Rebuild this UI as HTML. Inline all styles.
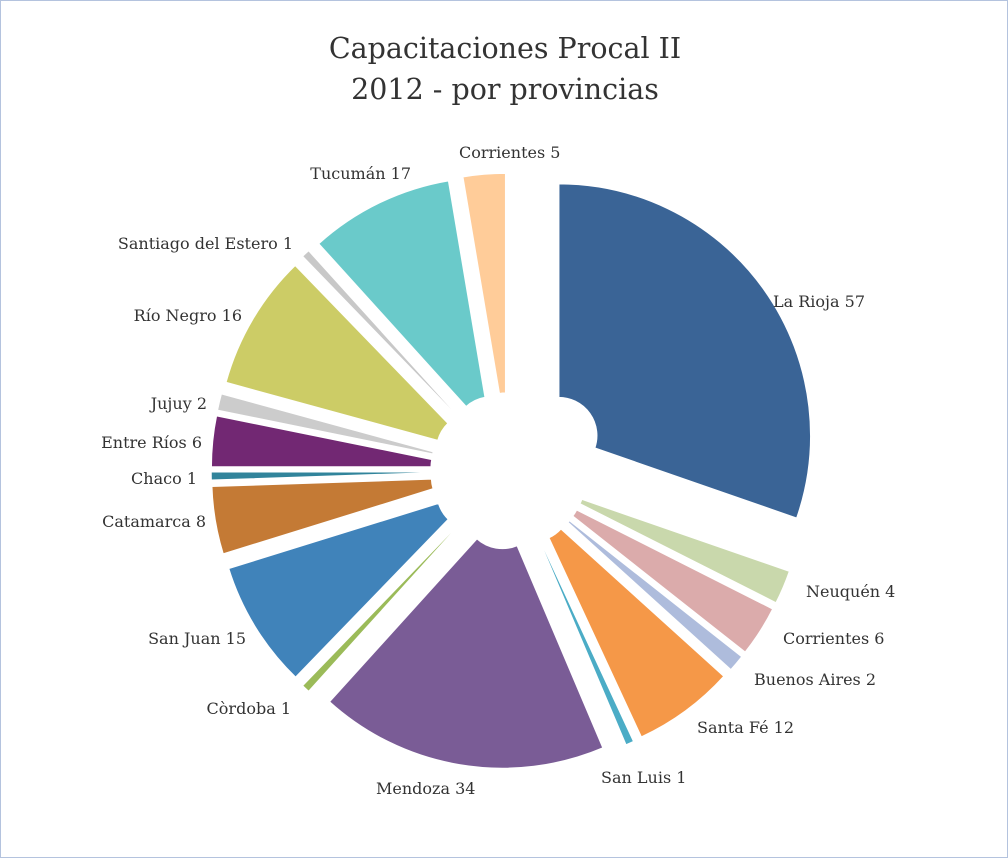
<!DOCTYPE html>
<html><head><meta charset="utf-8">
<style>
html,body{margin:0;padding:0;background:#fff;}
#c{position:relative;width:1006px;height:856px;border:1px solid #b4c3de;overflow:hidden;}
svg{position:absolute;left:0;top:0;}
text{font-family:"DejaVu Serif","Liberation Serif",serif;fill:#333;}
</style></head><body>
<div id="c">
<svg id="s" width="1006" height="856" viewBox="0 0 1006 856">
<text x="504" y="57" font-size="28.5" text-anchor="middle" fill="#222">Capacitaciones Procal II</text>
<text x="504" y="98" font-size="28.5" text-anchor="middle" fill="#222">2012 - por provincias</text>
<g id="p"></g>
<g font-size="16">
<text x="772" y="306">La Rioja 57</text>
<text x="805" y="596">Neuquén 4</text>
<text x="782" y="643">Corrientes 6</text>
<text x="753" y="684">Buenos Aires 2</text>
<text x="696" y="732">Santa Fé 12</text>
<text x="600" y="782">San Luis 1</text>
<text x="375" y="793">Mendoza 34</text>
<text x="290" y="713" text-anchor="end">Còrdoba 1</text>
<text x="245" y="643" text-anchor="end">San Juan 15</text>
<text x="205" y="526" text-anchor="end">Catamarca 8</text>
<text x="196" y="483" text-anchor="end">Chaco 1</text>
<text x="201" y="447" text-anchor="end">Entre Ríos 6</text>
<text x="206" y="408" text-anchor="end">Jujuy 2</text>
<text x="241" y="320" text-anchor="end">Río Negro 16</text>
<text x="292" y="248" text-anchor="end">Santiago del Estero 1</text>
<text x="410" y="178" text-anchor="end">Tucumán 17</text>
<text x="458" y="157">Corrientes 5</text>
</g>
</svg>
</div>
<script>
var data=[[57,"#3A6496",61,252],[4,"#C9D8AC",40],[6,"#DBABAB",40],[2,"#AEBCDC",40],[12,"#F59848",40],[1,"#4BACC6",40],[34,"#7A5C96",40],[1,"#9BBB59",40],[15,"#4083BA",40],[8,"#C47A35",40],[1,"#31849B",40],[6,"#722873",40],[2,"#CCCCCC",40],[16,"#CCCC66",40],[1,"#C8C8C8",40],[17,"#6ACACA",40],[5,"#FFCC99",40]];
var tot=0;data.forEach(function(d){tot+=d[0];});
var cx=508,cy=470,r=38,a=0,h="";
function pt(x,y,rad,ang){var t=ang*Math.PI/180;return [x+rad*Math.sin(t),y-rad*Math.cos(t)];}
data.forEach(function(d){
 var R=d[3]||258;
 var a0=a,a1=a+d[0]/tot*360;a=a1;var bm=(a0+a1)/2;
 var o=pt(cx,cy,d[2],bm),ox=o[0],oy=o[1];
 var p1=pt(ox,oy,R,a0),p2=pt(ox,oy,R,a1),p3=pt(ox,oy,r,a1),p4=pt(ox,oy,r,a0);
 var lg=(a1-a0)>180?1:0;
 h+='<path d="M'+p1[0].toFixed(1)+','+p1[1].toFixed(1)+' A'+R+','+R+' 0 '+lg+' 1 '+p2[0].toFixed(1)+','+p2[1].toFixed(1)+' L'+p3[0].toFixed(1)+','+p3[1].toFixed(1)+' A'+r+','+r+' 0 '+lg+' 0 '+p4[0].toFixed(1)+','+p4[1].toFixed(1)+' Z" fill="'+d[1]+'" stroke="#fff" stroke-width="1.5"/>';
});
document.getElementById("p").innerHTML=h;
</script>
</body></html>
